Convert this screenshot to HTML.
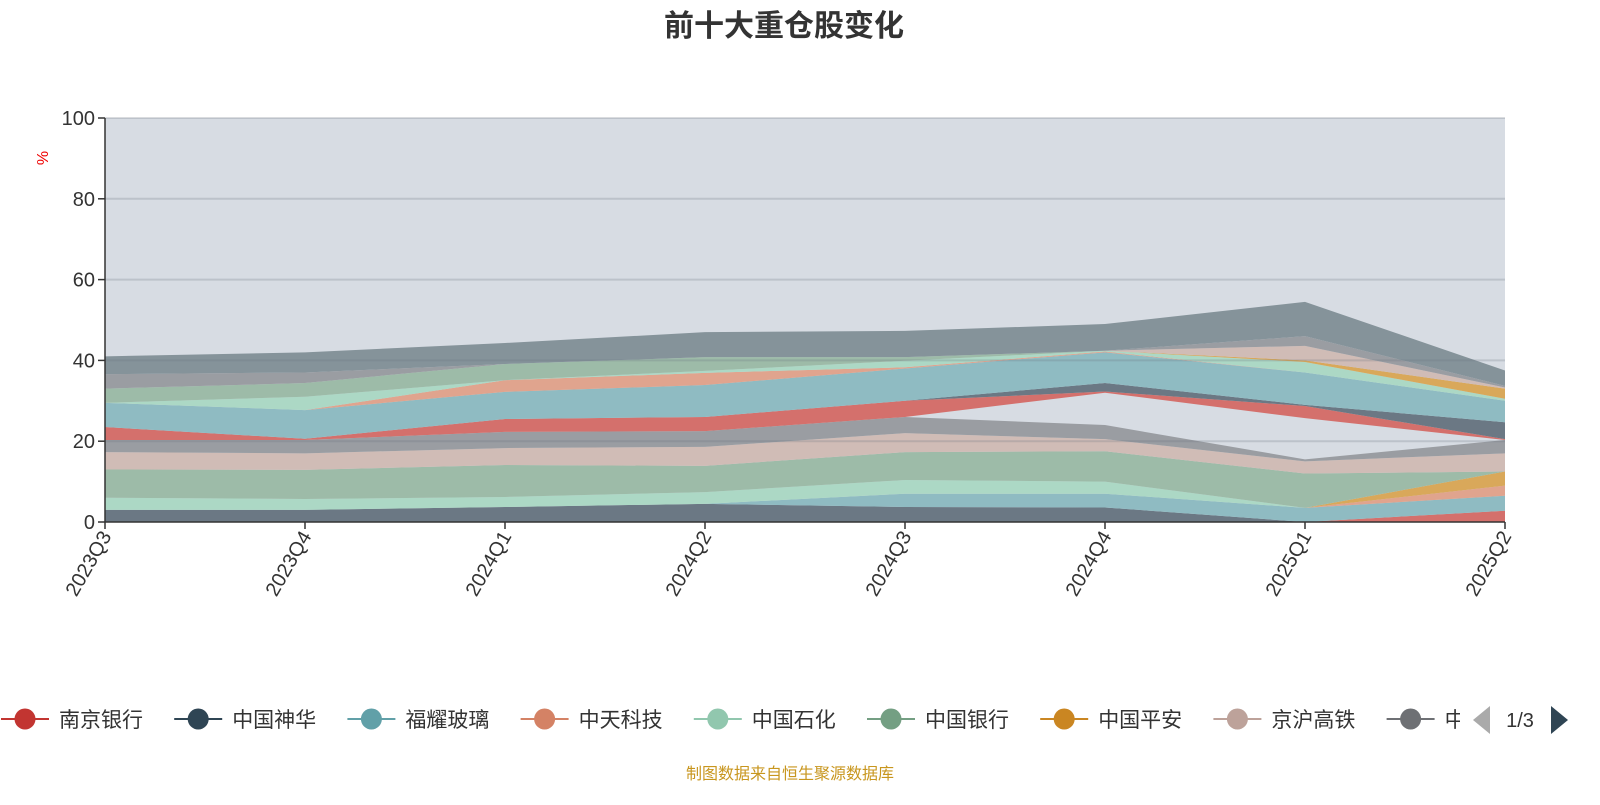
<!DOCTYPE html>
<html><head><meta charset="utf-8"><style>
html,body{margin:0;padding:0;background:#fff;}
body{width:1600px;height:800px;overflow:hidden;font-family:"Liberation Sans","Noto Sans CJK SC",sans-serif;}
</style></head><body>
<svg id="chart" width="1600" height="800" xmlns="http://www.w3.org/2000/svg" style="font-family:'Liberation Sans','Noto Sans CJK SC',sans-serif">
<defs><clipPath id="legclip"><rect x="0" y="690" width="1460" height="60"/></clipPath></defs>
<text x="784" y="36" text-anchor="middle" font-size="30" font-weight="bold" fill="#333">前十大重仓股变化</text>
<rect x="105" y="118" width="1400" height="404" fill="#d7dce3"/>
<g id="areas"></g>
<g id="grid"></g>
<g id="yaxis"></g>
<g id="xaxis"></g>
<text transform="translate(48,158) rotate(-90)" text-anchor="middle" font-size="16" fill="#e00">%</text>
<g id="legend" clip-path="url(#legclip)"></g>
<text x="1520" y="727" text-anchor="middle" font-size="20" fill="#333">1/3</text>
<polygon points="1490,706 1490,734 1473,720" fill="#aaa"/>
<polygon points="1551,706 1551,734 1568,720" fill="#2f4554"/>
<text x="790" y="779" text-anchor="middle" font-size="16" fill="#c8961e">制图数据来自恒生聚源数据库</text>
</svg>
<script>
const categories = ["2023Q3","2023Q4","2024Q1","2024Q2","2024Q3","2024Q4","2025Q1","2025Q2"];
const yTicks = [0,20,40,60,80,100];
const layerNames = ["南京银行-low","中国神华-low","福耀玻璃-low","中国石化-low","中天科技-low","中国平安-low","中国银行-low","京沪高铁-low","其他-low","gap","南京银行","中国神华","福耀玻璃","中天科技","中国石化","中国平安","中国银行","京沪高铁","其他","其他-top"];
const layerColors = ["#d4706c","#6b7884","#8fbbc2","#acd8c5","#e0a48e","#d9a85a","#9dbba8","#d0bcb6","#9a9da2","none","#d4706c","#6b7884","#8fbbc2","#e0a48e","#acd8c5","#d9a85a","#9dbba8","#d0bcb6","#9a9da2","#85939a"];
const s0 = [0,0,0,0,0,0,0,2.8];
const s1 = [3,3,3.7,4.5,3.7,3.6,0,0];
const s2 = [0,0,0,0,3.3,3.4,3.5,3.7];
const s3 = [3,2.7,2.5,2.9,3.4,3,0,0];
const s4 = [0,0,0,0,0,0,0,2.5];
const s5 = [0,0,0,0,0,0,0,3.5];
const s6 = [7,7.2,7.9,6.5,6.9,7.5,8.5,0];
const s7 = [4.3,4.1,4.2,4.7,4.7,3,3,4.5];
const s8 = [3,3.3,4,3.9,4,3.5,0.5,3.3];
const s9 = [0,0,0,0,0,8,10.2,0];
const s10 = [3.2,0.3,3.2,3.5,4,0.3,3,0.2];
const s11 = [0,0,0,0,0,2.1,0.3,4.2];
const s12 = [6,7.1,6.7,7.9,8,7.6,8,5.3];
const s13 = [0,0,2.9,3,0.3,0.2,0,0];
const s14 = [0,3.3,0,0.5,1.6,0.2,2.6,0.5];
const s15 = [0,0,0,0,0,0,0.4,2.5];
const s16 = [3.5,3.4,4,3.4,0.9,0,0,0];
const s17 = [0,0,0,0,0,0,3.6,0.3];
const s18 = [3.6,2.6,0,0,0,0,2.4,0.4];
const s19 = [4.4,5,5.2,6.2,6.5,6.6,8.5,3.8];
const series = [s0,s1,s2,s3,s4,s5,s6,s7,s8,s9,s10,s11,s12,s13,s14,s15,s16,s17,s18,s19];
const legendNames = ["南京银行","中国神华","福耀玻璃","中天科技","中国石化","中国银行","中国平安","京沪高铁","中国"];
const legendColors = ["#c23531","#2f4554","#61a0a8","#d48265","#91c7ae","#749f83","#ca8622","#bda29a","#6e7074"];

const NS="http://www.w3.org/2000/svg";
const X0=105,X1=1505,Y0=522,Y1=118,YMAX=100;
const xs=i=>X0+i*(X1-X0)/(categories.length-1);
const ys=v=>Y0-v*(Y0-Y1)/YMAX;
function mk(tag,attrs,parent){const e=document.createElementNS(NS,tag);for(const k in attrs)e.setAttribute(k,attrs[k]);parent.appendChild(e);return e;}

const areas=document.getElementById('areas');
let base=categories.map(()=>0);
series.forEach((s,si)=>{
  const top=base.map((b,i)=>b+s[i]);
  if(layerColors[si]!=="none"){
    let pts=top.map((v,i)=>xs(i)+","+ys(v));
    for(let i=categories.length-1;i>=0;i--)pts.push(xs(i)+","+ys(base[i]));
    const p=mk('polygon',{points:pts.join(' '),fill:layerColors[si]},areas);
    
    
  }
  base=top;
});

const grid=document.getElementById('grid'),yaxis=document.getElementById('yaxis'),xaxis=document.getElementById('xaxis');
yTicks.forEach(t=>{
  if(t>0){const l=mk('line',{x1:X0,x2:X1,y1:ys(t),y2:ys(t),stroke:'#6a7580','stroke-opacity':'0.25','stroke-width':2},grid);
  
  }
  const tk=mk('line',{x1:X0-7,x2:X0,y1:ys(t),y2:ys(t),stroke:'#333','stroke-width':1.5},yaxis);
  
  
  const tx=mk('text',{x:X0-10,y:ys(t)+7,'text-anchor':'end','font-size':20,fill:'#333'},yaxis);
  
  
  tx.textContent=t;
});
const yl=mk('line',{x1:X0,x2:X0,y1:Y1,y2:Y0,stroke:'#333','stroke-width':1.5},yaxis);


const xl=mk('line',{x1:X0,x2:X1,y1:Y0,y2:Y0,stroke:'#333','stroke-width':1.5},xaxis);


categories.forEach((c,i)=>{
  const tk=mk('line',{x1:xs(i),x2:xs(i),y1:Y0,y2:Y0+7,stroke:'#333','stroke-width':1.5},xaxis);
  
  
  const tx=mk('text',{transform:`translate(${xs(i)+7},${Y0+14}) rotate(-60)`,'text-anchor':'end','font-size':20,fill:'#333'},xaxis);
  
  
  tx.textContent=c;
});

const legend=document.getElementById('legend');
legendNames.forEach((n,i)=>{
  const cx=25+i*173.2;
  const g=mk('g',{},legend);
  
  
  mk('line',{x1:cx-24,x2:cx+24,y1:719,y2:719,stroke:legendColors[i],'stroke-width':2},g);
  mk('circle',{cx:cx,cy:719,r:10.5,fill:legendColors[i]},g);
  const t=mk('text',{x:cx+34,y:727,'font-size':21,fill:'#333'},g);
  t.textContent=n;
});
</script>
</body></html>
